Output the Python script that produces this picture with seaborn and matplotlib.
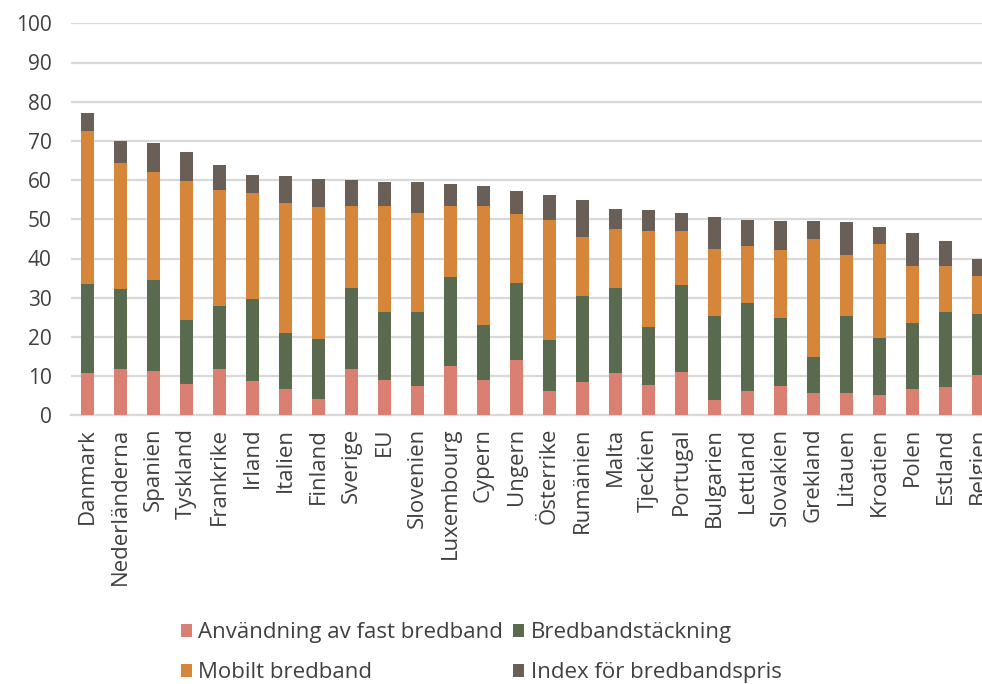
import matplotlib
matplotlib.use("Agg")
import matplotlib.pyplot as plt
from matplotlib.patches import Patch
import numpy as np
import pandas as pd
import seaborn as sns

countries = ["Danmark", "Nederländerna", "Spanien", "Tyskland", "Frankrike", "Irland",
             "Italien", "Finland", "Sverige", "EU", "Slovenien", "Luxembourg", "Cypern",
             "Ungern", "Österrike", "Rumänien", "Malta", "Tjeckien", "Portugal",
             "Bulgarien", "Lettland", "Slovakien", "Grekland", "Litauen", "Kroatien",
             "Polen", "Estland", "Belgien"]

fast_bredband = [10.9, 11.7, 11.2, 8.1, 11.9, 8.7, 6.7, 4.1, 11.9, 9.1, 7.4, 12.6, 9.1,
                 14.2, 6.1, 8.6, 10.9, 7.7, 11.1, 3.8, 6.2, 7.5, 5.8, 5.8, 5.2, 6.8, 7.1, 10.4]
tackning = [22.6, 20.5, 23.3, 16.2, 16.0, 20.9, 14.3, 15.4, 20.6, 17.2, 18.9, 22.8, 13.9,
            19.5, 13.1, 21.9, 21.6, 14.7, 22.1, 21.6, 22.5, 17.2, 9.2, 19.6, 14.4, 16.7, 19.3, 15.4]
mobilt = [39.0, 32.1, 27.5, 35.4, 29.5, 27.2, 33.1, 33.7, 20.8, 27.0, 25.4, 17.9, 30.3,
          17.7, 30.5, 15.0, 15.0, 24.6, 13.8, 17.0, 14.4, 17.4, 30.0, 15.4, 24.2, 14.7, 11.8, 9.7]
pris = [4.5, 5.6, 7.5, 7.5, 6.5, 4.6, 6.9, 7.1, 6.6, 6.2, 7.8, 5.6, 5.3,
        5.8, 6.6, 9.4, 5.1, 5.5, 4.5, 8.1, 6.8, 7.5, 4.6, 8.4, 4.2, 8.2, 6.2, 4.3]

series_names = ["Användning av fast bredband", "Bredbandstäckning",
                "Mobilt bredband", "Index för bredbandspris"]
series_values = [fast_bredband, tackning, mobilt, pris]
colors = ["#D98073", "#5A6A4F", "#D6863A", "#6A5F57"]

df = pd.DataFrame({"land": countries})
for name, vals in zip(series_names, series_values):
    df[name] = vals
cum = df[series_names].cumsum(axis=1)

sns.set_theme(style="white")
plt.rcParams["font.family"] = ["Open Sans", "DejaVu Sans"]

fig = plt.figure(figsize=(9.82, 6.84), dpi=100)
ax = fig.add_axes([71 / 982, 268.7 / 684, 924 / 982, 392 / 684])

# stacked bars: draw cumulative totals from the top segment down
for name, col in reversed(list(zip(series_names, colors))):
    sns.barplot(x=df["land"], y=cum[name], order=countries, color=col,
                saturation=1, width=0.41, linewidth=0, ax=ax, zorder=3)

ax.set_xlim(-0.5, len(countries) - 0.5)
ax.set_ylim(0, 100)
ax.set_yticks(np.arange(0, 101, 10))
ax.set_xlabel("")
ax.set_ylabel("")
ax.yaxis.grid(True, color="#D9D9D9", linewidth=1.6, zorder=0)
ax.xaxis.grid(False)
for side in ["top", "right", "left"]:
    ax.spines[side].set_visible(False)
ax.spines["bottom"].set_color("#D9D9D9")
ax.spines["bottom"].set_linewidth(1.6)
ax.tick_params(axis="y", length=0, pad=14, labelsize=15, labelcolor="#404040")
ax.tick_params(axis="x", length=0, pad=9, labelsize=16, labelcolor="#404040",
               rotation=90)
for lbl in ax.get_xticklabels():
    lbl.set_va("top")

handles = [Patch(facecolor=c, edgecolor="none") for c in colors]
order = [0, 2, 1, 3]
fig.legend([handles[i] for i in order], [series_names[i] for i in order],
           loc="lower center", bbox_to_anchor=(0.49, -0.028), ncol=2,
           frameon=False, fontsize=16, handlelength=0.5, handleheight=0.5,
           handletextpad=0.3, columnspacing=0.45, labelspacing=0.85,
           labelcolor="#404040")

fig.savefig("out.png", dpi=100)
